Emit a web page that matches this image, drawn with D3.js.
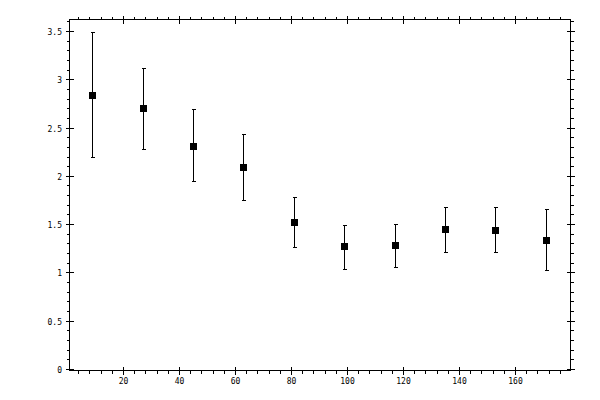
<!DOCTYPE html>
<html>
<head>
<meta charset="utf-8">
<script src="https://cdn.jsdelivr.net/npm/d3@7"></script>
<style>
    body { margin: 0; background: #fff; }
    svg text { font-family: 'DejaVu Sans Mono', monospace; font-size: 8px; fill: #000; }
</style>
</head>
<body>
<div id="chart"></div>
<script>
// data
var xValues = [9, 27, 45, 63, 81, 99, 117, 135, 153, 171];
var yValues = [2.84, 2.70, 2.31, 2.09, 1.52, 1.27, 1.28, 1.445, 1.435, 1.34];
var yUpper = [3.49, 3.12, 2.69, 2.43, 1.78, 1.49, 1.50, 1.675, 1.675, 1.655];
var yLower = [2.19, 2.28, 1.95, 1.745, 1.26, 1.04, 1.06, 1.21, 1.21, 1.03];

var xMajor = [20, 40, 60, 80, 100, 120, 140, 160];
var yMajor = [0, 0.5, 1, 1.5, 2, 2.5, 3, 3.5];
var xMinor = d3.range(4, 180, 4);
var yMinor = d3.range(0, 37).map(function (i) { return i / 10; });

var width = 600, height = 400;
// note: "top" is a reserved window global, so use plot* names
var plotLeft = 69, plotRight = 570, plotTop = 19, plotBottom = 370;

var x = d3.scaleLinear().domain([0.714, 179.64]).range([plotLeft, plotRight]);
var y = d3.scaleLinear().domain([-0.0104, 3.624]).range([plotBottom, plotTop]);

var svg = d3.select('#chart')
    .append('svg')
    .attr('width', width)
    .attr('height', height);

var g = svg.append('g')
    .attr('transform', 'translate(0.5,0.5)')
    .style('shape-rendering', 'crispEdges');

function px(v) { return Math.round(v); }

// frame
g.append('rect')
    .attr('x', plotLeft)
    .attr('y', plotTop)
    .attr('width', plotRight - plotLeft)
    .attr('height', plotBottom - plotTop)
    .attr('fill', 'none')
    .attr('stroke', '#000');

// ticks: minor outside, major both sides
var tickLines = [];
xMinor.forEach(function (v) {
    var p = px(x(v));
    tickLines.push([p, plotBottom, p, plotBottom + 3]);
    tickLines.push([p, plotTop, p, plotTop - 3]);
});
xMajor.forEach(function (v) {
    var p = px(x(v));
    tickLines.push([p, plotBottom - 4, p, plotBottom + 4]);
    tickLines.push([p, plotTop - 4, p, plotTop + 4]);
});
yMinor.forEach(function (v) {
    var p = px(y(v));
    tickLines.push([plotLeft, p, plotLeft - 3, p]);
    tickLines.push([plotRight, p, plotRight + 3, p]);
});
yMajor.forEach(function (v) {
    var p = px(y(v));
    tickLines.push([plotLeft - 4, p, plotLeft + 4, p]);
    tickLines.push([plotRight - 4, p, plotRight + 4, p]);
});

g.selectAll('.tick')
    .data(tickLines)
    .enter()
    .append('line')
    .attr('class', 'tick')
    .attr('x1', function (d) { return d[0]; })
    .attr('y1', function (d) { return d[1]; })
    .attr('x2', function (d) { return d[2]; })
    .attr('y2', function (d) { return d[3]; })
    .attr('stroke', '#000');

// tick labels
svg.selectAll('.ylab')
    .data(yMajor)
    .enter()
    .append('text')
    .attr('class', 'ylab')
    .attr('x', 62)
    .attr('y', function (d) { return px(y(d)) + 3.5; })
    .attr('text-anchor', 'end')
    .text(function (d) { return d; });

svg.selectAll('.xlab')
    .data(xMajor)
    .enter()
    .append('text')
    .attr('class', 'xlab')
    .attr('x', function (d) { return px(x(d)) + 0.5; })
    .attr('y', 384)
    .attr('text-anchor', 'middle')
    .text(function (d) { return d; });

// error bars
var bars = g.selectAll('.err')
    .data(xValues)
    .enter()
    .append('g')
    .attr('class', 'err');

bars.append('line')
    .attr('x1', function (d) { return px(x(d)); })
    .attr('x2', function (d) { return px(x(d)); })
    .attr('y1', function (d, i) { return px(y(yUpper[i])); })
    .attr('y2', function (d, i) { return px(y(yLower[i])); })
    .attr('stroke', '#000');

bars.append('line')
    .attr('x1', function (d) { return px(x(d)) - 2; })
    .attr('x2', function (d) { return px(x(d)) + 2; })
    .attr('y1', function (d, i) { return px(y(yUpper[i])); })
    .attr('y2', function (d, i) { return px(y(yUpper[i])); })
    .attr('stroke', '#000');

bars.append('line')
    .attr('x1', function (d) { return px(x(d)) - 2; })
    .attr('x2', function (d) { return px(x(d)) + 2; })
    .attr('y1', function (d, i) { return px(y(yLower[i])); })
    .attr('y2', function (d, i) { return px(y(yLower[i])); })
    .attr('stroke', '#000');

// markers
svg.selectAll('.pt')
    .data(xValues)
    .enter()
    .append('rect')
    .attr('class', 'pt')
    .attr('x', function (d) { return px(x(d)) - 3; })
    .attr('y', function (d, i) { return px(y(yValues[i])) - 3; })
    .attr('width', 7)
    .attr('height', 7)
    .attr('fill', '#000')
    .style('shape-rendering', 'crispEdges');
</script>
</body>
</html>
